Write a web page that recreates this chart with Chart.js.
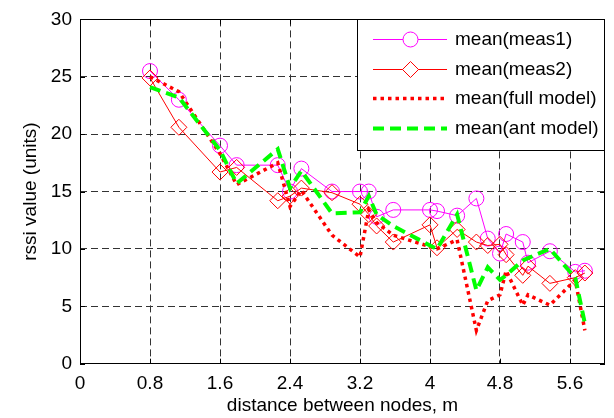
<!DOCTYPE html>
<html>
<head>
<meta charset="utf-8">
<script src="https://cdn.jsdelivr.net/npm/chart.js@4/dist/chart.umd.min.js"></script>
<style>
  html, body { margin: 0; padding: 0; background: #fff; }
  #wrap { width: 614px; height: 418px; }
</style>
</head>
<body>
<div id="wrap"><canvas id="rssiChart" width="614" height="418"></canvas></div>
<script>
// distance between node pairs (m) and mean rssi per pair
const distance = [0.8, 1.13, 1.6, 1.79, 2.26, 2.4, 2.53, 2.88, 3.2, 3.3, 3.39, 3.58,
  4.0, 4.08, 4.31, 4.53, 4.66, 4.8, 4.87, 5.06, 5.12, 5.37, 5.66, 5.77];
const meas1 = [25.5, 23.0, 19.0, 17.3, 17.3, 15.0, 17.0, 15.0, 15.0, 15.0, 12.8, 13.4,
  13.4, 13.3, 12.9, 14.4, 10.9, 9.6, 11.3, 10.6, 8.8, 9.8, 8.0, 8.1];
const meas2 = [24.9, 20.6, 16.7, 17.1, 14.2, 14.6, 15.3, 14.9, 13.9, 13.0, 12.0, 10.6,
  12.1, 10.1, 11.7, 10.6, 10.3, 10.4, 9.5, 7.7, 8.5, 7.0, 7.5, 7.9];
const fullModel = [25.0, 23.7, 18.3, 15.6, 17.5, 13.7, 15.1, 11.2, 9.3, 13.4, 12.3, 11.2,
  10.2, 10.0, 10.8, 2.9, 5.5, 6.0, 8.1, 5.1, 6.0, 5.1, 7.3, 2.9];
const antModel = [24.1, 23.2, 18.6, 15.7, 18.7, 15.3, 16.8, 13.1, 13.2, 14.6, 13.0, 12.0,
  10.3, 10.0, 13.0, 6.4, 8.4, 7.3, 7.7, 9.0, 9.2, 10.0, 7.5, 3.5];

const xTicks = [0, 0.8, 1.6, 2.4, 3.2, 4, 4.8, 5.6];
const yTicks = [0, 5, 10, 15, 20, 25, 30];
const seriesNames = ['mean(meas1)', 'mean(meas2)', 'mean(full model)', 'mean(ant model)'];

const MAGENTA = 'rgb(255,0,255)';
const RED = 'rgb(255,0,0)';
const GREEN = 'rgb(0,255,0)';
const FONT = 'Liberation Sans, Arial, Helvetica, sans-serif';
const pts = ys => distance.map((x, i) => ({ x, y: ys[i] }));

// legend sample styles, one row per series
const legendRows = [
  { color: MAGENTA, width: 1, dash: [], marker: 'circle', y: 39.5 },
  { color: RED, width: 1, dash: [], marker: 'diamond', y: 69.5 },
  { color: RED, width: 3.5, dash: [3.5, 4], marker: null, y: 98.5 },
  { color: GREEN, width: 4, dash: [11, 6], marker: null, y: 128.5 }
];

// frame + inward ticks, matlab style
const framePlugin = {
  id: 'frame',
  afterDraw(chart) {
    const { ctx, chartArea: a, scales } = chart;
    ctx.save();
    ctx.strokeStyle = '#000';
    ctx.lineWidth = 1;
    ctx.setLineDash([]);
    ctx.strokeRect(Math.round(a.left) + 0.5, Math.round(a.top) + 0.5,
      Math.round(a.right - a.left) - 1, Math.round(a.bottom - a.top));
    ctx.beginPath();
    xTicks.forEach(v => {
      const px = Math.round(scales.x.getPixelForValue(v)) + 0.5;
      ctx.moveTo(px, a.bottom); ctx.lineTo(px, a.bottom - 5);
      ctx.moveTo(px, a.top); ctx.lineTo(px, a.top + 5);
    });
    yTicks.forEach(v => {
      const py = Math.round(scales.y.getPixelForValue(v)) + 0.5;
      ctx.moveTo(a.left, py); ctx.lineTo(a.left + 5, py);
      ctx.moveTo(a.right, py); ctx.lineTo(a.right - 5, py);
    });
    ctx.stroke();
    ctx.restore();
  }
};

// legend box in the top right corner
const legendPlugin = {
  id: 'boxLegend',
  afterDraw(chart) {
    const { ctx, chartArea: a } = chart;
    const left = 357, top = Math.round(a.top), right = Math.round(a.right) - 1, bottom = 150;
    ctx.save();
    ctx.fillStyle = '#fff';
    ctx.fillRect(left, top, right - left, bottom - top);
    ctx.strokeStyle = '#000';
    ctx.lineWidth = 1;
    ctx.strokeRect(left + 0.5, top + 0.5, right - left, bottom - top);
    legendRows.forEach((row, i) => {
      const y = row.y;
      ctx.setLineDash(row.dash);
      ctx.strokeStyle = row.color;
      ctx.lineWidth = row.width;
      ctx.beginPath();
      ctx.moveTo(373, y);
      ctx.lineTo(447, y);
      ctx.stroke();
      ctx.setLineDash([]);
      const cx = 410.5;
      if (row.marker === 'circle') {
        ctx.beginPath();
        ctx.arc(cx, y, 7.5, 0, Math.PI * 2);
        ctx.fillStyle = '#fff';
        ctx.fill();
        ctx.strokeStyle = row.color;
        ctx.lineWidth = 1;
        ctx.stroke();
      } else if (row.marker === 'diamond') {
        ctx.beginPath();
        ctx.moveTo(cx, y - 8);
        ctx.lineTo(cx + 8, y);
        ctx.lineTo(cx, y + 8);
        ctx.lineTo(cx - 8, y);
        ctx.closePath();
        ctx.fillStyle = '#fff';
        ctx.fill();
        ctx.strokeStyle = row.color;
        ctx.lineWidth = 1;
        ctx.stroke();
      }
      ctx.fillStyle = '#000';
      ctx.font = '19px ' + FONT;
      ctx.textBaseline = 'middle';
      ctx.textAlign = 'left';
      ctx.fillText(seriesNames[i], 455, y);
    });
    ctx.restore();
  }
};

new Chart(document.getElementById('rssiChart'), {
  type: 'line',
  data: {
    datasets: [
      {
        label: seriesNames[0], data: pts(meas1), order: 3,
        borderColor: MAGENTA, borderWidth: 1, backgroundColor: 'transparent',
        pointStyle: 'circle', pointRadius: 7.5, pointBorderWidth: 1,
        pointBackgroundColor: 'transparent', pointBorderColor: MAGENTA
      },
      {
        label: seriesNames[1], data: pts(meas2), order: 2,
        borderColor: RED, borderWidth: 1, backgroundColor: 'transparent',
        pointStyle: 'rectRot', pointRadius: 8, pointBorderWidth: 1,
        pointBackgroundColor: 'transparent', pointBorderColor: RED
      },
      {
        label: seriesNames[2], data: pts(fullModel), order: 1,
        borderColor: RED, borderWidth: 3.5, borderDash: [3.5, 4],
        backgroundColor: 'transparent', pointRadius: 0
      },
      {
        label: seriesNames[3], data: pts(antModel), order: 0,
        borderColor: GREEN, borderWidth: 4, borderDash: [11, 6],
        backgroundColor: 'transparent', pointRadius: 0
      }
    ]
  },
  options: {
    responsive: false,
    animation: false,
    layout: { padding: { top: 19, right: 2, left: 0, bottom: 0 } },
    elements: { line: { tension: 0 } },
    plugins: {
      legend: { display: false },
      tooltip: { enabled: false }
    },
    scales: {
      x: {
        type: 'linear',
        min: 0,
        max: 6,
        afterBuildTicks: s => { s.ticks = xTicks.map(v => ({ value: v })); },
        afterFit: s => { s.height = 54.3; },
        ticks: {
          color: '#000', padding: 9, maxRotation: 0,
          font: { family: FONT, size: 19 },
          callback: v => String(v)
        },
        grid: { color: '#333', lineWidth: 1, drawTicks: false },
        border: { display: false, dash: [7, 4] },
        title: {
          display: true, text: 'distance between nodes, m', color: '#000',
          font: { family: FONT, size: 19 }, padding: { top: 0, bottom: 1 }
        }
      },
      y: {
        min: 0,
        max: 30,
        afterBuildTicks: s => { s.ticks = yTicks.map(v => ({ value: v })); },
        afterFit: s => { s.width = 80; },
        ticks: {
          color: '#000', padding: 8,
          font: { family: FONT, size: 19 }
        },
        grid: { color: '#333', lineWidth: 1, drawTicks: false },
        border: { display: false, dash: [7, 4] },
        title: {
          display: true, text: 'rssi value (units)', color: '#000',
          font: { family: FONT, size: 19 }, padding: { top: 19, bottom: 0 }
        }
      }
    }
  },
  plugins: [framePlugin, legendPlugin]
});
</script>
</body>
</html>
